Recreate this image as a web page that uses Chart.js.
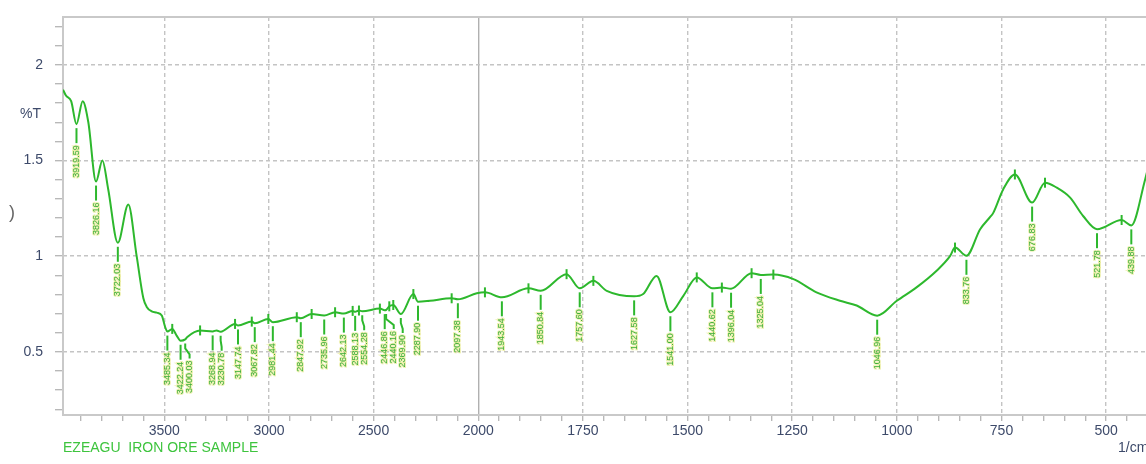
<!DOCTYPE html>
<html>
<head>
<meta charset="utf-8">
<script src="https://cdn.jsdelivr.net/npm/chart.js@4.4.1/dist/chart.umd.min.js"></script>
<style>
html, body { margin: 0; padding: 0; overflow: hidden; background: #fff; }
</style>
</head>
<body>
<canvas id="irChart" width="1150" height="464"></canvas>
<script>
// wavenumber (1/cm) and %T
const wavenumbers = [
    3984, 3970, 3945, 3919.59, 3890, 3863, 3826.16, 3796, 3768, 3722.03,
    3672, 3632, 3600, 3584, 3560, 3536, 3512, 3496, 3485.34, 3462,
    3441, 3422.24, 3400.03, 3390, 3329, 3268.94, 3250, 3230.78, 3162, 3147.74,
    3082, 3067.82, 3003, 2981.44, 2867, 2847.92, 2796, 2735.96, 2684, 2642.13,
    2600, 2588.13, 2570, 2554.28, 2470, 2446.86, 2440.16, 2425, 2406, 2369.90,
    2310, 2287.90, 2231, 2127, 2097.38, 2007, 1984, 1943.54, 1880, 1850.84,
    1789, 1757.60, 1725, 1693, 1627.58, 1606, 1574, 1541.00, 1510, 1478,
    1440.62, 1418, 1396.04, 1347, 1325.04, 1295, 1247, 1192, 1136, 1096,
    1046.96, 1000, 953, 905, 873, 861, 833.76, 801, 777, 770,
    746, 718, 676.83, 646, 618, 586, 555, 521.78, 463, 439.88,
    407, 400
];
const transmittance = [
    1.87, 1.84, 1.81, 1.69, 1.81, 1.70, 1.39, 1.50, 1.35, 1.07,
    1.27, 1.00, 0.78, 0.735, 0.712, 0.705, 0.69, 0.63, 0.606, 0.62,
    0.585, 0.558, 0.565, 0.578, 0.612, 0.607, 0.612, 0.605, 0.646, 0.638,
    0.658, 0.650, 0.672, 0.655, 0.681, 0.676, 0.698, 0.690, 0.707, 0.700,
    0.714, 0.709, 0.716, 0.712, 0.726, 0.718, 0.719, 0.738, 0.745, 0.698,
    0.802, 0.762, 0.767, 0.780, 0.775, 0.806, 0.811, 0.785, 0.832, 0.819,
    0.906, 0.832, 0.871, 0.819, 0.790, 0.802, 0.897, 0.707, 0.793, 0.889,
    0.832, 0.836, 0.830, 0.911, 0.902, 0.904, 0.880, 0.811, 0.767, 0.742,
    0.689, 0.767, 0.837, 0.924, 1.00, 1.045, 1.002, 1.141, 1.205, 1.225,
    1.349, 1.427, 1.280, 1.384, 1.358, 1.306, 1.210, 1.141, 1.189, 1.161,
    1.40, 1.46
];

// labelled absorption peaks (minima of %T)
const peakLabels = [
    3919.59, 3826.16, 3722.03, 3485.34, 3422.24, 3400.03, 3268.94, 3230.78, 3147.74, 3067.82,
    2981.44, 2847.92, 2735.96, 2642.13, 2588.13, 2554.28, 2446.86, 2440.16, 2369.90, 2287.90,
    2097.38, 1943.54, 1850.84, 1757.60, 1627.58, 1541.00, 1440.62, 1396.04, 1325.04, 1046.96,
    833.76, 676.83, 521.78, 439.88
];
// small tick marks drawn across the curve at the maxima
const maximaMarks = [
    3462, 3329, 3162, 3082, 3003, 2867, 2796, 2684, 2600, 2570, 2470, 2425, 2406,
    2310, 2127, 1984, 1880, 1789, 1725, 1478, 1418, 1347, 1295, 861, 718, 646, 463
];

const xTickLabels = [3500, 3000, 2500, 2000, 1750, 1500, 1250, 1000, 750, 500];
const yTickLabels = [0.5, 1, 1.5, 2];
const sampleName = 'EZEAGU  IRON ORE SAMPLE';

const lineGreen = '#2db82d';
const labelGreen = '#3aae3a';
const axisText = '#3d4a6a';

// the instrument compresses the scale above 2000 1/cm by half
function toAxis(wn) { return wn > 2000 ? 2000 + (wn - 2000) / 2 : wn; }
function fromAxis(t) { return t > 2000 ? 2000 + (t - 2000) * 2 : t; }

const points = wavenumbers.map((wn, i) => ({ x: toAxis(wn), y: transmittance[i] }));

function isMajorX(t) { return xTickLabels.includes(Math.round(fromAxis(t))); }
function isMajorY(v) { return yTickLabels.some(l => Math.abs(l - v) < 1e-6); }

const peakLabelPlugin = {
    id: 'peakLabels',
    afterDatasetsDraw(chart) {
        const meta = chart.getDatasetMeta(0);
        const ctx = chart.ctx;
        let lastX = -Infinity;
        ctx.save();
        ctx.font = '9px "Liberation Sans", Arial, sans-serif';
        peakLabels.forEach(wn => {
            const i = wavenumbers.indexOf(wn);
            if (i < 0) return;
            const px = meta.data[i].x, py = meta.data[i].y;
            const lx = Math.max(px, lastX + 9);
            lastX = lx;
            ctx.strokeStyle = lineGreen;
            ctx.lineWidth = 2;
            ctx.beginPath();
            ctx.moveTo(px, py + 4);
            if (lx - px > 0.5) {
                ctx.lineTo(px, py + 9);
                ctx.lineTo(lx, py + 15);
            }
            ctx.lineTo(lx, py + 19);
            ctx.stroke();

            ctx.save();
            ctx.translate(lx, py + 21);
            ctx.rotate(-Math.PI / 2);
            ctx.textAlign = 'right';
            ctx.textBaseline = 'middle';
            ctx.lineWidth = 2;
            ctx.strokeStyle = 'rgba(225, 230, 120, 0.55)';
            ctx.strokeText(wn.toFixed(2), 0, 0);
            ctx.fillStyle = labelGreen;
            ctx.fillText(wn.toFixed(2), 0, 0);
            ctx.restore();
        });
        ctx.restore();
    }
};

const decorPlugin = {
    id: 'decor',
    beforeDraw(chart) {
        const ctx = chart.ctx;
        ctx.save();
        ctx.fillStyle = '#fff';
        ctx.fillRect(0, 0, chart.width, chart.height);
        ctx.restore();
    },
    beforeDatasetsDraw(chart) {
        const a = chart.chartArea;
        const ctx = chart.ctx;
        ctx.save();
        ctx.strokeStyle = '#c9c9c9';
        ctx.lineWidth = 2;
        ctx.strokeRect(a.left, a.top, a.right - a.left, a.bottom - a.top);
        ctx.restore();
    },
    afterDraw(chart) {
        const ctx = chart.ctx;
        ctx.save();
        ctx.font = '14px "Liberation Sans", Arial, sans-serif';
        ctx.textBaseline = 'middle';
        ctx.fillStyle = axisText;
        ctx.fillText('%T', 20, 114);
        ctx.fillText('1/cm', 1118, 448);
        ctx.fillStyle = '#3ec43e';
        ctx.fillText(sampleName, 63, 448);
        ctx.fillStyle = '#666';
        ctx.font = '18px "Liberation Sans", Arial, sans-serif';
        ctx.fillText(')', 9, 213);
        ctx.restore();
    }
};

new Chart(document.getElementById('irChart'), {
    type: 'line',
    data: {
        datasets: [{
            label: sampleName,
            data: points,
            borderColor: lineGreen,
            borderWidth: 2,
            fill: false,
            cubicInterpolationMode: 'monotone',
            pointStyle: 'line',
            rotation: 90,
            pointRadius: ctx => maximaMarks.includes(wavenumbers[ctx.dataIndex]) ? 5 : 0,
            pointBorderColor: lineGreen,
            pointBorderWidth: 2
        }]
    },
    options: {
        responsive: false,
        animation: false,
        events: [],
        layout: { padding: { left: 0, top: 17, right: 2, bottom: 0 } },
        plugins: {
            legend: { display: false },
            tooltip: { enabled: false }
        },
        scales: {
            x: {
                type: 'linear',
                reverse: true,
                min: 400,
                max: 2992,
                afterBuildTicks: axis => {
                    const ticks = [];
                    for (let t = 400; t <= 2950; t += 50) ticks.push({ value: t });
                    axis.ticks = ticks;
                },
                afterFit: axis => {
                    axis.height = 49;
                    axis.paddingLeft = 0;
                    axis.paddingRight = 0;
                },
                ticks: {
                    autoSkip: false,
                    maxRotation: 0,
                    padding: 2,
                    color: axisText,
                    font: { family: '"Liberation Sans", Arial, sans-serif', size: 14 },
                    callback: value => isMajorX(value) ? String(Math.round(fromAxis(value))) : ''
                },
                grid: {
                    color: ctx => {
                        if (!ctx.tick) return 'rgba(0,0,0,0)';
                        if (Math.round(fromAxis(ctx.tick.value)) === 2000) return '#b0b0b0';
                        return isMajorX(ctx.tick.value) ? '#c4c4c4' : 'rgba(0,0,0,0)';
                    },
                    lineWidth: 1.4,
                    tickColor: '#b5b5b5',
                    tickLength: 6,
                    tickWidth: 1.3
                },
                border: {
                    display: false,
                    dash: ctx => (ctx.tick && Math.round(fromAxis(ctx.tick.value)) === 2000) ? [] : [4, 3]
                }
            },
            y: {
                min: 0.17,
                max: 2.25,
                afterBuildTicks: axis => {
                    const ticks = [];
                    for (let k = 2; k <= 22; k++) ticks.push({ value: k / 10 });
                    axis.ticks = ticks;
                },
                afterFit: axis => {
                    axis.width = 63;
                    axis.paddingTop = 0;
                    axis.paddingBottom = 0;
                },
                ticks: {
                    autoSkip: false,
                    padding: 12,
                    color: axisText,
                    font: { family: '"Liberation Sans", Arial, sans-serif', size: 14 },
                    callback: value => isMajorY(value) ? String(value) : ''
                },
                grid: {
                    color: ctx => (ctx.tick && isMajorY(ctx.tick.value)) ? '#c4c4c4' : 'rgba(0,0,0,0)',
                    lineWidth: 1.4,
                    tickColor: '#b5b5b5',
                    tickLength: 8,
                    tickWidth: 1.3
                },
                border: { display: false, dash: [4, 3] }
            }
        }
    },
    plugins: [decorPlugin, peakLabelPlugin]
});
</script>
</body>
</html>
